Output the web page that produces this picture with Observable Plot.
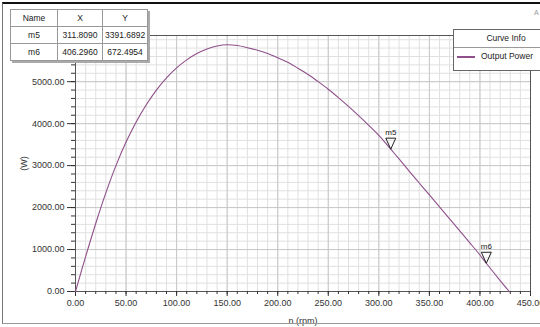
<!DOCTYPE html>
<html>
<head>
<meta charset="utf-8">
<script src="https://cdn.jsdelivr.net/npm/d3@7"></script>
<script src="https://cdn.jsdelivr.net/npm/@observablehq/plot@0.6"></script>
<style>
  body { margin: 0; background: #fff; }
  #wrap { position: relative; width: 540px; height: 327px; overflow: hidden; background: #fff; font-family: "Liberation Sans", Arial, sans-serif; }
  #border { position: absolute; left: 2px; top: 2px; width: 560px; height: 322px; border-top: 2px solid #111; border-left: 1px solid #777; border-bottom: 1px solid #999; box-sizing: border-box; pointer-events: none; }
  #tbl { position: absolute; left: 10px; top: 9px; border-collapse: collapse; background: #fff; box-shadow: 2px 2px 0 #aaa; border: 1px solid #444; font-size: 8.5px; color: #222; }
  #tbl td { border: 1px solid #999; text-align: center; height: 16px; padding: 0 2px; }
  #legend { position: absolute; left: 453px; top: 29px; width: 100px; height: 40px; background: #fff; border: 1px solid #666; font-size: 8.5px; color: #222; }
  #legend .hdr { height: 17px; line-height: 17px; border-bottom: 1px solid #999; padding-left: 18px; width: 68px; text-align: center; }
  #legend .row { height: 17px; line-height: 17px; display: flex; align-items: center; }
  #legend .sw { width: 18px; height: 2px; background: #8f4f8a; margin: 0 6px 0 3px; }
  #logo { position: absolute; left: 534px; top: 9px; font-size: 7px; color: #999; }
  svg { position: absolute; left: 0; top: 0; }
</style>
</head>
<body>
<div id="wrap"></div>
<script>
const rpm   = [0, 10, 20, 30, 40, 50, 60, 70, 80, 90, 100, 110, 120, 130, 140, 150, 160, 170, 180, 190, 200, 210, 220, 230, 240, 250, 260, 270, 280, 290, 300, 311.809, 320, 330, 340, 350, 360, 370, 380, 390, 400, 406.296, 420, 429];
const power = [0, 830, 1620, 2350, 3000, 3560, 4040, 4450, 4800, 5090, 5330, 5520, 5670, 5780, 5850, 5880, 5860, 5810, 5750, 5670, 5570, 5460, 5320, 5170, 5000, 4820, 4620, 4410, 4190, 3960, 3720, 3391.6892, 3158, 2870, 2585, 2300, 2015, 1730, 1445, 1160, 870, 672.4954, 260, 0];

const markerNames = ["m5", "m6"];
const markerX = [311.8090, 406.2960];
const markerY = [3391.6892, 672.4954];

const xMajor = [0, 50, 100, 150, 200, 250, 300, 350, 400, 450];
const xMinor = d3.range(0, 451, 10);
const yMajor = [0, 1000, 2000, 3000, 4000, 5000];
const yMinor = d3.range(0, 6001, 200);

const seriesName = "Output Power";
const lineColor = "#8f4f8a";

const data = rpm.map((x, i) => ({x, y: power[i]}));
const markers = markerNames.map((n, i) => ({name: n, x: markerX[i], y: markerY[i]}));

const tri = {
  draw(ctx) {
    ctx.moveTo(-5, -11);
    ctx.lineTo(5, -11);
    ctx.lineTo(0, 0);
    ctx.closePath();
  }
};

const chart = Plot.plot({
  width: 540,
  height: 327,
  marginLeft: 75,
  marginRight: 10,
  marginTop: 35,
  marginBottom: 36,
  style: {fontFamily: "Liberation Sans, Arial, sans-serif", fontSize: "9px", background: "transparent"},
  x: {domain: [0, 450]},
  y: {domain: [0, 6100]},
  marks: [
    Plot.ruleX(xMinor, {stroke: "#e0e0e0", strokeWidth: 1}),
    Plot.ruleY(yMinor, {stroke: "#e0e0e0", strokeWidth: 1}),
    Plot.ruleX(xMajor, {stroke: "#c8c8c8", strokeWidth: 1}),
    Plot.ruleY(yMajor, {stroke: "#c8c8c8", strokeWidth: 1}),
    Plot.frame({stroke: "#555"}),
    Plot.axisX({ticks: xMinor, tickSize: 3, text: null, stroke: "#333", label: null}),
    Plot.axisX({ticks: xMajor, tickSize: 5, tickPadding: 3, tickFormat: d => d.toFixed(2), color: "#333",
      label: "n (rpm)", labelAnchor: "center", labelArrow: "none", labelOffset: 32}),
    Plot.axisY({ticks: yMinor, tickSize: 4, text: null, stroke: "#333", label: null}),
    Plot.axisY({ticks: yMajor, tickSize: 8, tickPadding: 3, tickFormat: d => d.toFixed(2), color: "#333",
      label: "(W)", labelAnchor: "center", labelArrow: "none", labelOffset: 55}),
    Plot.line(data, {x: "x", y: "y", stroke: lineColor, strokeWidth: 1.1, curve: "catmull-rom"}),
    Plot.dot(markers, {x: "x", y: "y", symbol: tri, r: 5, stroke: "#222", strokeWidth: 1, fill: "none"}),
    Plot.text(markers, {x: "x", y: "y", text: "name", dy: -17, fontSize: 8, fill: "#222"})
  ]
});

const wrap = document.getElementById("wrap");
wrap.appendChild(chart);

const border = document.createElement("div");
border.id = "border";
wrap.appendChild(border);

const rows = [["Name", "X", "Y"]].concat(markers.map(m => [m.name, m.x.toFixed(4), m.y.toFixed(4)]));
const tbl = document.createElement("table");
tbl.id = "tbl";
rows.forEach((r, ri) => {
  const tr = document.createElement("tr");
  r.forEach((c, ci) => {
    const td = document.createElement("td");
    td.textContent = c;
    td.style.width = ci === 0 ? "42px" : "40px";
    tr.appendChild(td);
  });
  tbl.appendChild(tr);
});
wrap.appendChild(tbl);

const legend = document.createElement("div");
legend.id = "legend";
legend.innerHTML = `<div class="hdr">Curve Info</div><div class="row"><div class="sw"></div><span></span></div>`;
legend.querySelector("span").textContent = seriesName;
wrap.appendChild(legend);

const logo = document.createElement("div");
logo.id = "logo";
logo.textContent = "A";
wrap.appendChild(logo);
</script>
</body>
</html>
